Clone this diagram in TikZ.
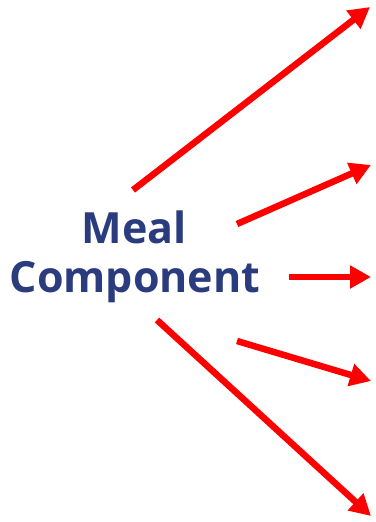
\documentclass[tikz,border=0pt]{standalone}
\usepackage{fontspec}
\setmainfont{Open Sans}
\usetikzlibrary{arrows.meta}
\definecolor{txtblue}{HTML}{2A3B7E}
\definecolor{arrred}{HTML}{FF0000}
\tikzset{
  arr/.style={draw=arrred, line width=6.5pt, -{Triangle[length=21pt,width=22pt]}},
  lbl/.style={text=txtblue, font=\fontsize{43}{49}\selectfont\bfseries, align=center, inner sep=0pt}
}
\begin{document}
\begin{tikzpicture}[x=1pt,y=-1pt]
\useasboundingbox (0,0) rectangle (375,522);
\node[lbl, anchor=base] (m) at (134,243) {Meal};
\node[lbl, anchor=base] (c) at (135,292) {Component};
\coordinate (s1) at (133,190); \coordinate (e1) at (370,7);
\coordinate (s2) at (237,224); \coordinate (e2) at (371,165);
\coordinate (s3) at (289,277); \coordinate (e3) at (371,277);
\coordinate (s4) at (237,341); \coordinate (e4) at (371,381);
\coordinate (s5) at (157,320); \coordinate (e5) at (371,516);
\draw[arr] (s1) -- (e1);
\draw[arr] (s2) -- (e2);
\draw[arr] (s3) -- (e3);
\draw[arr] (s4) -- (e4);
\draw[arr] (s5) -- (e5);
\end{tikzpicture}
\end{document}
